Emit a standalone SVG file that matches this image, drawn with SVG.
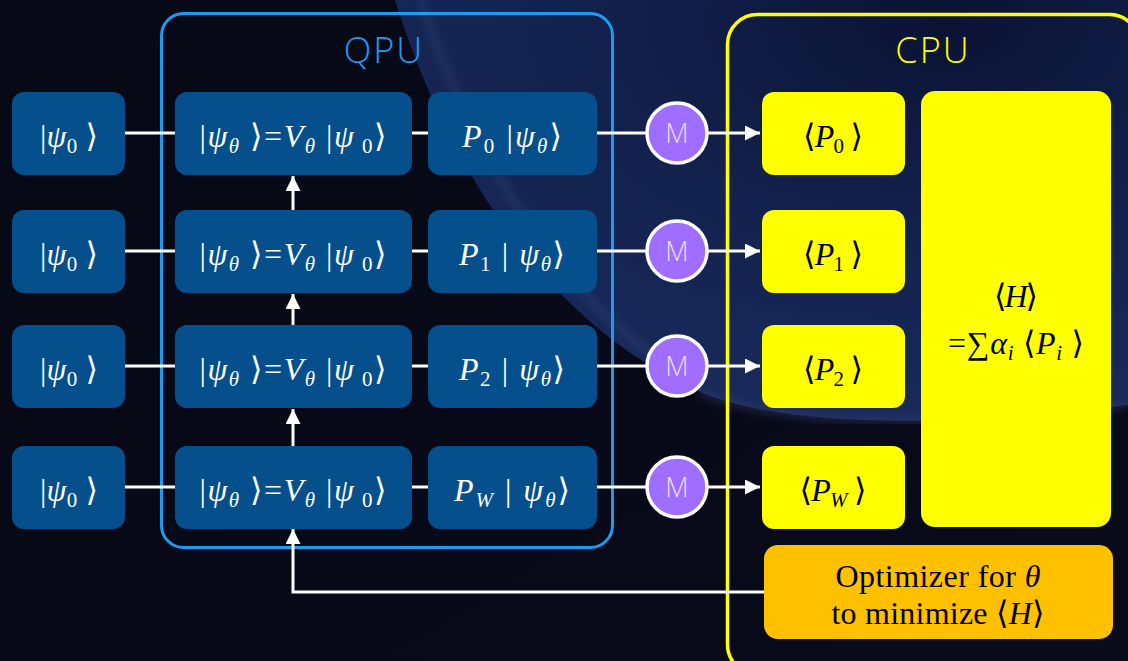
<svg xmlns="http://www.w3.org/2000/svg" width="1128" height="661" viewBox="0 0 1128 661">
<defs>
<linearGradient id="bg" x1="0" y1="0" x2="1" y2="1">
<stop offset="0" stop-color="#080916"/>
<stop offset="1" stop-color="#090a1a"/>
</linearGradient>
<radialGradient id="pl" cx="0.75" cy="0.05" r="0.9">
<stop offset="0" stop-color="#0b1334"/>
<stop offset="0.5" stop-color="#12204b"/>
<stop offset="1" stop-color="#18295a"/>
</radialGradient>
<filter id="blur" x="-10%" y="-10%" width="120%" height="120%"><feGaussianBlur stdDeviation="4"/></filter>
<marker id="ah" viewBox="0 0 10 10" refX="10" refY="5" markerWidth="15" markerHeight="15" markerUnits="userSpaceOnUse" orient="auto">
<path d="M0,0 L10,5 L0,10 z" fill="#fff"/>
</marker>
<style>
.n{fill:#054f8c}
.y{fill:#ffff00}
.c{stroke:#fff;stroke-width:3;fill:none}
.ca{stroke:#fff;stroke-width:3;fill:none;marker-end:url(#ah)}
.t{font-family:"Liberation Serif","DejaVu Serif",serif;font-size:32px;fill:#fff;text-anchor:middle}
.k{fill:#000}
.i{font-style:italic}
.s{font-size:21px}
.m{fill:#9f6dff;stroke:#fff;stroke-width:3.5}
.mt{font-family:"Open Sans","Noto Sans",sans-serif;font-weight:300;font-size:27px;fill:#eadfff;text-anchor:middle}
.hd{font-family:"Open Sans","Noto Sans",sans-serif;font-weight:300;font-size:36px;text-anchor:middle;letter-spacing:2px}
</style>
</defs>
<rect width="1128" height="661" fill="url(#bg)"/>
<path d="M395 0 C455 190 560 330 700 392 C780 425 930 430 1128 405 L1128 0 Z" fill="url(#pl)"/>
<path d="M420 0 C478 170 570 315 700 385" stroke="#5a6a9a" stroke-width="3" fill="none" opacity="0.45" filter="url(#blur)"/>
<path d="M700 392 C780 425 930 430 1128 405" stroke="#3a4a78" stroke-width="6" fill="none" opacity="0.5" filter="url(#blur)"/>

<g id="qpu">
<rect x="161.5" y="13.5" width="451" height="534" rx="22" fill="none" stroke="#1a9cf2" stroke-width="3"/>
<text class="hd" x="384" y="63" fill="#1a9cf2">QPU</text>
</g>
<g id="cpu">
<rect x="727.5" y="14.5" width="412" height="660" rx="30" fill="none" stroke="#ffff00" stroke-width="3.5"/>
<text class="hd" x="933" y="63" fill="#ffff00">CPU</text>
</g>

<g id="connectors">
<line class="c" x1="125" y1="133" x2="175" y2="133"/>
<line class="c" x1="125" y1="251" x2="175" y2="251"/>
<line class="c" x1="125" y1="366" x2="175" y2="366"/>
<line class="c" x1="125" y1="487" x2="175" y2="487"/>
<line class="c" x1="412" y1="133" x2="428" y2="133"/>
<line class="c" x1="412" y1="251" x2="428" y2="251"/>
<line class="c" x1="412" y1="366" x2="428" y2="366"/>
<line class="c" x1="412" y1="487" x2="428" y2="487"/>
<line class="c" x1="597" y1="133" x2="646" y2="133"/>
<line class="c" x1="597" y1="251" x2="646" y2="251"/>
<line class="c" x1="597" y1="366" x2="646" y2="366"/>
<line class="c" x1="597" y1="487" x2="646" y2="487"/>
<line class="ca" x1="708" y1="133" x2="760" y2="133"/>
<line class="ca" x1="708" y1="251" x2="760" y2="251"/>
<line class="ca" x1="708" y1="366" x2="760" y2="366"/>
<line class="ca" x1="708" y1="487" x2="760" y2="487"/>
<line class="ca" x1="293" y1="210" x2="293" y2="176"/>
<line class="ca" x1="293" y1="325" x2="293" y2="294"/>
<line class="ca" x1="293" y1="446" x2="293" y2="409"/>
<path class="ca" d="M764 592 H293 V529"/>
</g>

<g id="in0"><rect class="n" x="12" y="92" width="113" height="83" rx="12"/><text class="t" x="69" y="147" textLength="58">|<tspan class="i">ψ</tspan><tspan class="s" dy="6">0</tspan><tspan dy="-6"> ⟩</tspan></text></g>
<g id="in1"><rect class="n" x="12" y="210" width="113" height="83" rx="12"/><text class="t" x="69" y="265" textLength="58">|<tspan class="i">ψ</tspan><tspan class="s" dy="6">0</tspan><tspan dy="-6"> ⟩</tspan></text></g>
<g id="in2"><rect class="n" x="12" y="325" width="113" height="83" rx="12"/><text class="t" x="69" y="380" textLength="58">|<tspan class="i">ψ</tspan><tspan class="s" dy="6">0</tspan><tspan dy="-6"> ⟩</tspan></text></g>
<g id="in3"><rect class="n" x="12" y="446" width="113" height="83" rx="12"/><text class="t" x="69" y="501" textLength="58">|<tspan class="i">ψ</tspan><tspan class="s" dy="6">0</tspan><tspan dy="-6"> ⟩</tspan></text></g>

<g id="v0"><rect class="n" x="175" y="92" width="237" height="83" rx="12"/><text class="t" x="293" y="147" textLength="187">|<tspan class="i">ψ</tspan><tspan class="s i" dy="6">θ</tspan><tspan dy="-6"> ⟩=</tspan><tspan class="i">V</tspan><tspan class="s i" dy="6">θ</tspan><tspan dy="-6"> |</tspan><tspan class="i">ψ</tspan><tspan class="s" dy="6"> 0</tspan><tspan dy="-6">⟩</tspan></text></g>
<g id="v1"><rect class="n" x="175" y="210" width="237" height="83" rx="12"/><text class="t" x="293" y="265" textLength="187">|<tspan class="i">ψ</tspan><tspan class="s i" dy="6">θ</tspan><tspan dy="-6"> ⟩=</tspan><tspan class="i">V</tspan><tspan class="s i" dy="6">θ</tspan><tspan dy="-6"> |</tspan><tspan class="i">ψ</tspan><tspan class="s" dy="6"> 0</tspan><tspan dy="-6">⟩</tspan></text></g>
<g id="v2"><rect class="n" x="175" y="325" width="237" height="83" rx="12"/><text class="t" x="293" y="380" textLength="187">|<tspan class="i">ψ</tspan><tspan class="s i" dy="6">θ</tspan><tspan dy="-6"> ⟩=</tspan><tspan class="i">V</tspan><tspan class="s i" dy="6">θ</tspan><tspan dy="-6"> |</tspan><tspan class="i">ψ</tspan><tspan class="s" dy="6"> 0</tspan><tspan dy="-6">⟩</tspan></text></g>
<g id="v3"><rect class="n" x="175" y="446" width="237" height="83" rx="12"/><text class="t" x="293" y="501" textLength="187">|<tspan class="i">ψ</tspan><tspan class="s i" dy="6">θ</tspan><tspan dy="-6"> ⟩=</tspan><tspan class="i">V</tspan><tspan class="s i" dy="6">θ</tspan><tspan dy="-6"> |</tspan><tspan class="i">ψ</tspan><tspan class="s" dy="6"> 0</tspan><tspan dy="-6">⟩</tspan></text></g>

<g id="p0"><rect class="n" x="428" y="92" width="169" height="83" rx="12"/><text class="t" x="512" y="147" textLength="100"><tspan class="i">P</tspan><tspan class="s" dy="6">0</tspan><tspan dy="-6"> |</tspan><tspan class="i">ψ</tspan><tspan class="s i" dy="6">θ</tspan><tspan dy="-6">⟩</tspan></text></g>
<g id="p1"><rect class="n" x="428" y="210" width="169" height="83" rx="12"/><text class="t" x="512" y="265" textLength="106"><tspan class="i">P</tspan><tspan class="s" dy="6">1</tspan><tspan dy="-6"> | </tspan><tspan class="i">ψ</tspan><tspan class="s i" dy="6">θ</tspan><tspan dy="-6">⟩</tspan></text></g>
<g id="p2"><rect class="n" x="428" y="325" width="169" height="83" rx="12"/><text class="t" x="512" y="380" textLength="106"><tspan class="i">P</tspan><tspan class="s" dy="6">2</tspan><tspan dy="-6"> | </tspan><tspan class="i">ψ</tspan><tspan class="s i" dy="6">θ</tspan><tspan dy="-6">⟩</tspan></text></g>
<g id="p3"><rect class="n" x="428" y="446" width="169" height="83" rx="12"/><text class="t" x="512" y="501" textLength="116"><tspan class="i">P</tspan><tspan class="s i" dy="6">W</tspan><tspan dy="-6"> | </tspan><tspan class="i">ψ</tspan><tspan class="s i" dy="6">θ</tspan><tspan dy="-6">⟩</tspan></text></g>

<g id="m0"><circle class="m" cx="677" cy="133" r="30"/><text class="mt" x="677" y="143">M</text></g>
<g id="m1"><circle class="m" cx="677" cy="251" r="30"/><text class="mt" x="677" y="261">M</text></g>
<g id="m2"><circle class="m" cx="677" cy="366" r="30"/><text class="mt" x="677" y="376">M</text></g>
<g id="m3"><circle class="m" cx="677" cy="487" r="30"/><text class="mt" x="677" y="497">M</text></g>

<g id="e0"><rect class="y" x="762" y="92" width="143" height="83" rx="12"/><text class="t k" x="833" y="147" textLength="60">⟨<tspan class="i">P</tspan><tspan class="s" dy="6">0</tspan><tspan dy="-6"> ⟩</tspan></text></g>
<g id="e1"><rect class="y" x="762" y="210" width="143" height="83" rx="12"/><text class="t k" x="833" y="265" textLength="60">⟨<tspan class="i">P</tspan><tspan class="s" dy="6">1</tspan><tspan dy="-6"> ⟩</tspan></text></g>
<g id="e2"><rect class="y" x="762" y="325" width="143" height="83" rx="12"/><text class="t k" x="833" y="380" textLength="60">⟨<tspan class="i">P</tspan><tspan class="s" dy="6">2</tspan><tspan dy="-6"> ⟩</tspan></text></g>
<g id="e3"><rect class="y" x="762" y="446" width="143" height="83" rx="12"/><text class="t k" x="833" y="501" textLength="67">⟨<tspan class="i">P</tspan><tspan class="s i" dy="6">W</tspan><tspan dy="-6"> ⟩</tspan></text></g>

<g id="h"><rect class="y" x="921" y="91" width="190" height="436" rx="14"/>
<text class="t k" x="1016" y="307" textLength="44">⟨<tspan class="i">H</tspan>⟩</text>
<text class="t k" x="1016" y="354" textLength="136">=∑<tspan class="i">α</tspan><tspan class="s i" dy="6">i</tspan><tspan dy="-6"> ⟨</tspan><tspan class="i">P</tspan><tspan class="s i" dy="6">i</tspan><tspan dy="-6"> ⟩</tspan></text>
</g>

<g id="opt"><rect x="764" y="545" width="349" height="94" rx="14" fill="#ffc000"/>
<text class="t k" x="938" y="587" textLength="205">Optimizer for <tspan class="i">θ</tspan></text>
<text class="t k" x="938" y="624" textLength="213">to minimize ⟨<tspan class="i">H</tspan>⟩</text>
</g>
</svg>
